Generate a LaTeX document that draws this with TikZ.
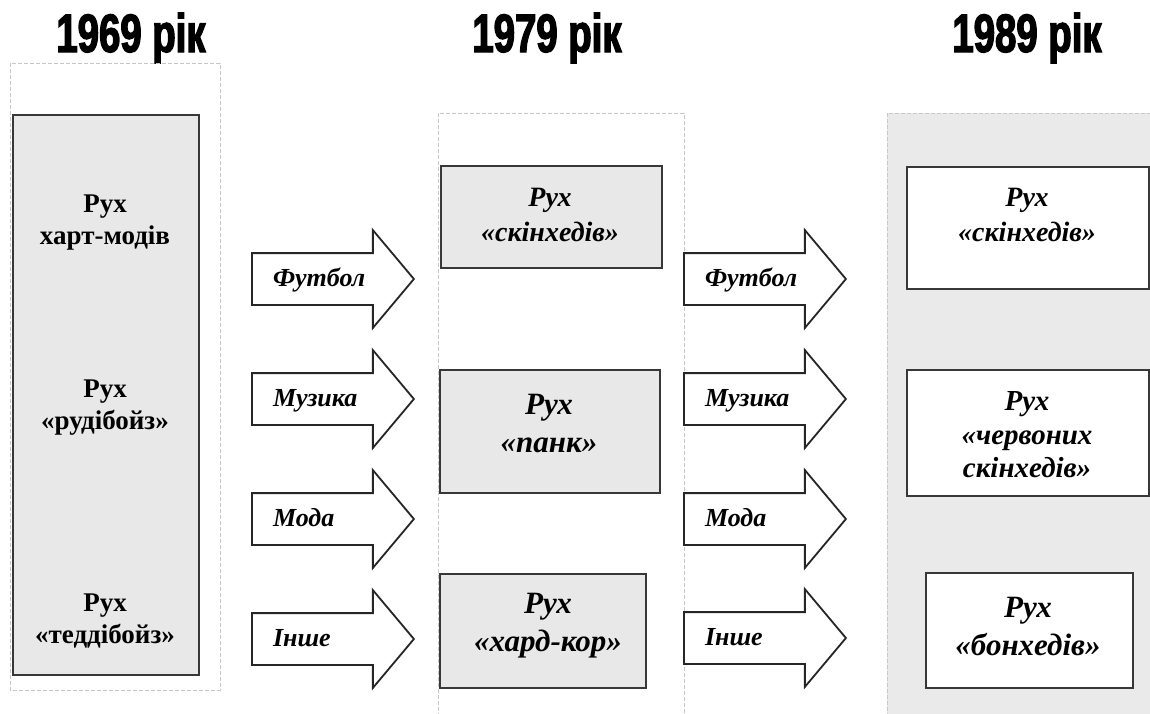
\documentclass[tikz,border=0pt]{standalone}
\usepackage{fontspec}
\setmainfont{Liberation Serif}
\newfontfamily\hdfont{Liberation Sans}[BoldFeatures={FakeBold=2.4,FakeStretch=0.71}]
\usetikzlibrary{shapes.arrows}
\definecolor{boxgray}{RGB}{232,232,232}
\definecolor{panelgray}{RGB}{234,234,234}
\begin{document}
\begin{tikzpicture}[x=0.5pt,y=-0.5pt,
  frame/.style={draw=black!22, line width=0.5pt, dash pattern=on 2pt off 1pt},
  boxg/.style={draw=black!78, line width=1.1pt, fill=boxgray, anchor=north west, inner sep=0pt},
  boxw/.style={boxg, fill=white},
  hd/.style={font=\hdfont\bfseries\fontsize{27}{30}\selectfont, anchor=base},
  up/.style={font=\bfseries\fontsize{13.5}{16}\selectfont, align=center},
  itm/.style={font=\bfseries\itshape\fontsize{14}{17.5}\selectfont, align=center},
  itc/.style={font=\bfseries\itshape\fontsize{14.5}{16.75}\selectfont, align=center},
  itl/.style={font=\bfseries\itshape\fontsize{15.5}{19}\selectfont, align=center},
  flow/.style={single arrow, draw=black!85, line width=0.9pt, fill=white,
    single arrow head extend=11.5pt, single arrow tip angle=100,
    minimum height=81pt,
    inner xsep=0pt, inner ysep=0pt, text width=61pt, text height=16pt, text depth=9pt,
    align=left, anchor=tail, font=\bfseries\itshape\fontsize{13}{15}\selectfont}]
\useasboundingbox (0,0) rectangle (1150,713);

% year headings
\node[hd] (h1) at (131,52) {1969 рік};
\node[hd] (h2) at (547,52) {1979 рік};
\node[hd] (h3) at (1027,52) {1989 рік};

% column panels
\draw[frame] (10,63) rectangle (220,690);
\draw[frame] (438,113) rectangle (684,716);
\draw[frame, fill=panelgray] (887,113) rectangle (1154,716);

% 1969
\node[boxg, minimum width=93pt, minimum height=280pt] (b1) at (12,114) {};
\node[up] (t11) at (105,223) {Рух\\харт-модів};
\node[up] (t12) at (105,408) {Рух\\«рудібойз»};
\node[up] (t13) at (105,621) {Рух\\«теддібойз»};

% 1979
\node[boxg, minimum width=110.5pt, minimum height=51pt] (b21) at (440,165) {};
\node[boxg, minimum width=110pt, minimum height=61.5pt] (b22) at (439,369) {};
\node[boxg, minimum width=103pt, minimum height=57pt] (b23) at (439,573) {};
\node[itm] (t21) at (550,215) {Рух\\«скінхедів»};
\node[itl] (t22) at (549,423) {Рух\\«панк»};
\node[itl] (t23) at (548,626) {Рух\\«хард-кор»};

% 1989
\node[boxw, minimum width=121pt, minimum height=61pt] (b31) at (906,166) {};
\node[boxw, minimum width=121pt, minimum height=63pt] (b32) at (906,369) {};
\node[boxw, minimum width=103.5pt, minimum height=57.5pt] (b33) at (925,572) {};
\node[itm] (t31) at (1027,215) {Рух\\«скінхедів»};
\node[itc] (t32) at (1027,435) {Рух\\«червоних\\скінхедів»};
\node[itl] (t33) at (1028,626) {Рух\\«бонхедів»};

% influences between the periods
\node[flow] (fa1) at (251,279) {\hspace*{6pt}Футбол};
\node[flow] (fa2) at (251,399) {\hspace*{6pt}Музика};
\node[flow] (fa3) at (251,519) {\hspace*{6pt}Мода};
\node[flow] (fa4) at (251,639) {\hspace*{6pt}Інше};
\node[flow] (fb1) at (683,279) {\hspace*{6pt}Футбол};
\node[flow] (fb2) at (683,399) {\hspace*{6pt}Музика};
\node[flow] (fb3) at (683,519) {\hspace*{6pt}Мода};
\node[flow] (fb4) at (683,638) {\hspace*{6pt}Інше};
\end{tikzpicture}
\end{document}
